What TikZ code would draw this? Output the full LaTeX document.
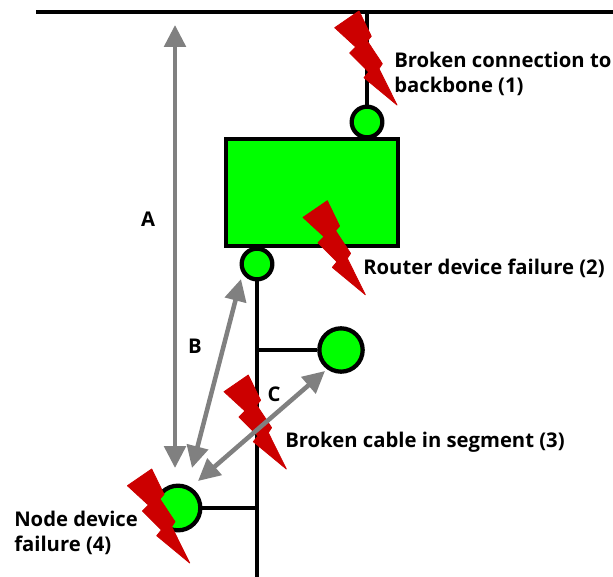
\documentclass[tikz,border=0pt]{standalone}
\usepackage{fontspec}
\setmainfont{Open Sans}
\usetikzlibrary{arrows.meta}
\definecolor{boltred}{RGB}{204,0,0}
\definecolor{devgreen}{RGB}{0,255,0}
\definecolor{armgray}{RGB}{128,128,128}
\tikzset{
  wire/.style={draw=black, line width=3.2pt},
  device/.style={circle, draw=black, fill=devgreen, line width=3.2pt, inner sep=0pt},
  reach/.style={draw=armgray, line width=3.4pt, {Triangle[length=16.5pt,width=16pt]}-{Triangle[length=16.5pt,width=16pt]}},
  bolt/.style={fill=boltred, draw=boltred, line width=0.6pt, line join=round},
  lbl/.style={font=\fontsize{15.2}{18.75}\selectfont\bfseries, align=left, inner sep=0pt},
}
\begin{document}
\begin{tikzpicture}[x=0.75pt,y=-0.75pt]
\useasboundingbox (0,0) rectangle (613,577);
\coordinate (bbL) at (36,12);
\coordinate (bbR) at (613,12);
\coordinate (bbT) at (367,12);
\coordinate (segEnd) at (257,577);
\coordinate (tapC) at (257,350);
\coordinate (tapD) at (257,508);
\coordinate (aTop) at (175,25);
\coordinate (aBot) at (175,468);
\coordinate (bTop) at (241,279);
\coordinate (bBot) at (192,468);
\coordinate (cTop) at (325,371);
\coordinate (cBot) at (198,481);
% lines
\draw[wire] (bbL) -- (bbR);
\node[device, minimum size=23pt] (upPort) at (367,122) {};
\node[draw=black, fill=devgreen, line width=3.2pt, minimum width=128.5pt, minimum height=80.5pt, inner sep=0pt] (router) at (312,192.5) {};
\node[device, minimum size=23pt] (downPort) at (257,264) {};
\node[device, minimum size=32.5pt] (nodeC) at (341,350) {};
\node[device, minimum size=33.5pt] (nodeD) at (178,508) {};
\draw[wire] (bbT) -- (upPort);
\draw[wire] (downPort) -- (segEnd);
\draw[wire] (tapC) -- (nodeC);
\draw[wire] (tapD) -- (nodeD);
% lightning
\foreach \x/\y in {359/11,327.3/200.7,248.3/375,151.7/469} {
  \path[bolt] (\x,\y) -- ++(-24.3,16.7) -- ++(21,19.3) -- ++(-6,6) -- ++(19,19) -- ++(-4.7,5.7) -- ++(33,27.3) -- ++(-18,-36.3) -- ++(3.3,-5) -- ++(-15,-22.7) -- ++(4,-4.7) -- cycle;
}
% distances
\draw[reach] (aTop) -- (aBot);
\draw[reach] (bTop) -- (bBot);
\draw[reach] (cTop) -- (cBot);
% texts
\node[lbl, anchor=west] (lblBackbone) at (394,74) {Broken connection to\\backbone (1)};
\node[lbl, anchor=west] (lblRouter) at (363,268.5) {Router device failure (2)};
\node[lbl, anchor=west] (lblCable) at (285,442) {Broken cable in segment (3)};
\node[lbl, anchor=west] (lblNode) at (14,533) {Node device\\failure (4)};
\node[lbl] (lblA) at (148,219) {A};
\node[lbl] (lblB) at (195,346) {B};
\node[lbl] (lblC) at (274,394) {C};
\end{tikzpicture}
\end{document}
